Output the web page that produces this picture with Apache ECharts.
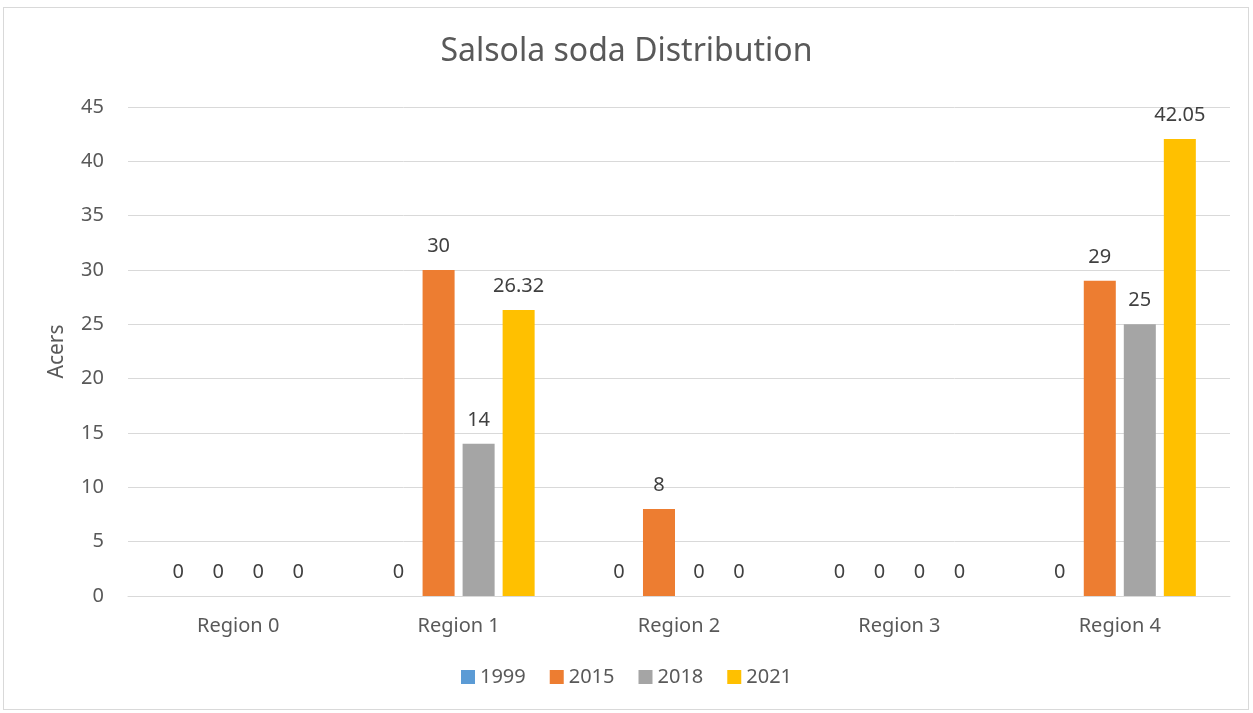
<!doctype html>
<html lang="en">
<head>
    <meta charset="UTF-8">
    <title>Salsola soda Distribution</title>
    <script src="https://cdn.jsdelivr.net/npm/echarts@6/dist/echarts.min.js"></script>
    <style>
        html, body { margin: 0; padding: 0; background: #fff; }
        #frame {
            position: absolute; left: 3px; top: 7px; width: 1246px; height: 703px;
            border: 1px solid #d9d9d9; box-sizing: border-box;
        }
        #chart { width: 1253px; height: 713px; }
    </style>
</head>
<body>
    <div id="frame"></div>
    <div id="chart"></div>
    <script>
        const regions = ['Region 0', 'Region 1', 'Region 2', 'Region 3', 'Region 4'];
        const years = ['1999', '2015', '2018', '2021'];
        const v1999 = [0, 0, 0, 0, 0];
        const v2015 = [0, 30, 8, 0, 29];
        const v2018 = [0, 14, 0, 0, 25];
        const v2021 = [0, 26.32, 0, 0, 42.05];
        const colors = ['#5B9BD5', '#ED7D31', '#A5A5A5', '#FFC000'];

        const font = 'Noto Sans';
        const values = [v1999, v2015, v2018, v2021];

        const chart = echarts.init(document.getElementById('chart'));
        chart.setOption({
            animation: false,
            title: {
                text: 'Salsola soda Distribution', left: 'center', top: 31,
                textStyle: { fontFamily: font, fontSize: 32, fontWeight: 'normal', color: '#595959' }
            },
            legend: {
                bottom: 21, left: 'center', itemWidth: 14, itemHeight: 14, itemGap: 24,
                icon: 'rect',
                textStyle: { fontFamily: font, fontSize: 20, color: '#595959' }
            },
            grid: { left: 128, right: 23, top: 107, bottom: 117 },
            xAxis: {
                type: 'category', data: regions,
                axisTick: { show: false },
                axisLine: { lineStyle: { color: '#d9d9d9' } },
                axisLabel: { fontFamily: font, fontSize: 20, color: '#595959', margin: 20 }
            },
            yAxis: {
                type: 'value', min: 0, max: 45, interval: 5,
                name: 'Acers', nameLocation: 'middle', nameGap: 60, nameRotate: 90,
                nameTextStyle: { fontFamily: font, fontSize: 21, color: '#595959' },
                axisLabel: { fontFamily: font, fontSize: 20, color: '#595959', margin: 24 },
                splitLine: { lineStyle: { color: '#d9d9d9', width: 1 } }
            },
            series: years.map((y, i) => ({
                name: y, type: 'bar', data: values[i],
                itemStyle: { color: colors[i] },
                barGap: '25%', barCategoryGap: '31%',
                label: {
                    show: true, position: 'top', distance: 14,
                    fontFamily: font, fontSize: 20, color: '#404040'
                }
            }))
        });
    </script>
</body>
</html>
